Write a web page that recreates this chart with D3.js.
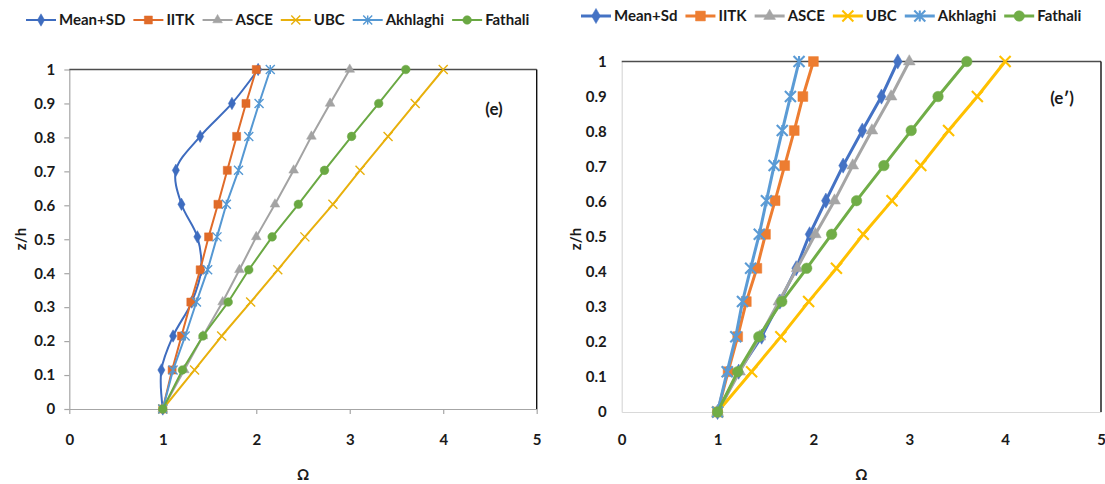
<!DOCTYPE html>
<html>
<head>
<meta charset="utf-8">
<script src="https://cdn.jsdelivr.net/npm/d3@7"></script>
<style>
  body { margin: 0; background: #fff; }
  text { font-family: Lato, "Open Sans", sans-serif; font-weight: bold; fill: #1a1a1a; }
</style>
</head>
<body>
<svg id="chart" width="1105" height="484"></svg>
<script>
// heights of the points (z/h), shared by every series
var zLevels = [0, 0.115, 0.215, 0.315, 0.41, 0.507, 0.603, 0.703, 0.803, 0.9, 1];
var xTicks = [0, 1, 2, 3, 4, 5];
var yTicks = [0, 0.1, 0.2, 0.3, 0.4, 0.5, 0.6, 0.7, 0.8, 0.9, 1];

var namesE  = ["Mean+SD", "IITK", "ASCE", "UBC", "Akhlaghi", "Fathali"];
var namesE2 = ["Mean+Sd", "IITK", "ASCE", "UBC", "Akhlaghi", "Fathali"];

// panel (e) - Omega at each z level
var meanSdE   = [1, 0.985, 1.11, 1.31, 1.41, 1.37, 1.2, 1.14, 1.4, 1.74, 2.02];
var iitkE     = [1, 1.1, 1.2, 1.3, 1.4, 1.49, 1.59, 1.69, 1.79, 1.89, 2.0];
var asceE     = [1, 1.23, 1.43, 1.64, 1.82, 2.0, 2.2, 2.4, 2.59, 2.79, 3.0];
var ubcE      = [1, 1.34, 1.63, 1.94, 2.23, 2.52, 2.82, 3.11, 3.41, 3.7, 4.0];
var akhlaghiE = [1, 1.11, 1.24, 1.36, 1.48, 1.58, 1.68, 1.81, 1.92, 2.03, 2.15];
var fathaliE  = [1, 1.21, 1.43, 1.7, 1.92, 2.17, 2.45, 2.73, 3.02, 3.31, 3.6];

// panel (e')
var meanSdE2   = [1, 1.22, 1.46, 1.65, 1.82, 1.96, 2.13, 2.31, 2.51, 2.71, 2.88];
var iitkE2     = [1, 1.11, 1.21, 1.3, 1.41, 1.5, 1.6, 1.7, 1.8, 1.89, 2.0];
var asceE2     = [1, 1.23, 1.44, 1.64, 1.83, 2.02, 2.22, 2.41, 2.61, 2.81, 3.0];
var ubcE2      = [1, 1.355, 1.66, 1.95, 2.24, 2.52, 2.82, 3.12, 3.41, 3.71, 4.0];
var akhlaghiE2 = [1, 1.1, 1.19, 1.26, 1.345, 1.435, 1.51, 1.59, 1.675, 1.76, 1.85];
var fathaliE2  = [1, 1.21, 1.43, 1.67, 1.93, 2.19, 2.45, 2.735, 3.02, 3.3, 3.6];

var markerKinds = ["diamond", "square", "triangle", "x", "star", "circle"];

var svg = d3.select("#chart");

function markerPath(kind, s) {
  var h = s / 2;
  if (kind == "x") return "M" + (-h) + "," + (-h) + "L" + h + "," + h + "M" + (-h) + "," + h + "L" + h + "," + (-h);
  if (kind == "star") return "M" + (-h) + "," + (-h) + "L" + h + "," + h + "M" + (-h) + "," + h + "L" + h + "," + (-h) + "M0," + (-h) + "L0," + h;
  var sym = { diamond: d3.symbolDiamond, square: d3.symbolSquare, triangle: d3.symbolTriangle, circle: d3.symbolCircle }[kind];
  var area = { diamond: s * s * 0.55, square: s * s * 0.8, triangle: s * s * 0.5, circle: s * s * 0.72 }[kind];
  return d3.symbol().type(sym).size(area)();
}

function drawMarker(g, kind, color, s, lw) {
  var p = g.append("path").attr("d", markerPath(kind, s));
  if (kind == "x" || kind == "star")
    p.attr("fill", "none").attr("stroke", color).attr("stroke-width", lw);
  else
    p.attr("fill", color).attr("stroke", color).attr("stroke-width", 0.5);
}

function drawPanel(cfg) {
  var g = svg.append("g");
  var x = d3.scaleLinear().domain([0, 5]).range([cfg.left, cfg.right]);
  var y = d3.scaleLinear().domain([0, 1]).range([cfg.bottom, cfg.top]);

  // axes
  var yAxis = d3.axisLeft(y).tickValues(yTicks).tickFormat(function(d){ return String(d); })
    .tickSize(cfg.tick).tickSizeOuter(0).tickPadding(cfg.yPad);
  var gy = g.append("g").attr("transform", "translate(" + cfg.left + ",0)").call(yAxis);
  var xAxis = d3.axisBottom(x).tickValues(xTicks).tickFormat(d3.format("d"))
    .tickSize(cfg.tick).tickSizeOuter(0).tickPadding(cfg.xPad);
  var gx = g.append("g").attr("transform", "translate(0," + cfg.bottom + ")").call(xAxis);
  [gx, gy].forEach(function(a){
    a.select(".domain").attr("stroke", cfg.axisColor).attr("stroke-width", 1.2);
    a.selectAll(".tick line").attr("stroke", cfg.axisColor).attr("stroke-width", 1.2);
    a.selectAll(".tick text").style("font-size", "15px").style("font-family", "Lato, sans-serif")
      .style("font-weight", "bold").attr("fill", "#1a1a1a");
  });

  // frame: dark top line and black right border
  g.append("line").attr("x1", cfg.left).attr("x2", cfg.right).attr("y1", y(1)).attr("y2", y(1))
    .attr("stroke", "#4d4d4d").attr("stroke-width", 1.6);
  g.append("line").attr("x1", cfg.right).attr("x2", cfg.right).attr("y1", y(1)).attr("y2", y(0))
    .attr("stroke", "#111").attr("stroke-width", 1.4);

  // series
  cfg.series.forEach(function(vals, i) {
    var pts = vals.map(function(v, j){ return [v, zLevels[j]]; });
    var line = d3.line().x(function(d){ return x(d[0]); }).y(function(d){ return y(d[1]); });
    if (cfg.smooth[i]) line.curve(d3.curveCatmullRom.alpha(0.5));
    g.append("path").datum(pts).attr("d", line).attr("fill", "none")
      .attr("stroke", cfg.colors[i]).attr("stroke-width", cfg.lineW).attr("stroke-linejoin", "round");
    pts.forEach(function(p) {
      var m = g.append("g").attr("transform", "translate(" + x(p[0]) + "," + y(p[1]) + ")");
      drawMarker(m, markerKinds[i], cfg.colors[i], cfg.markS, cfg.lineW * 0.7);
    });
  });

  // axis titles
  g.append("text").attr("x", (cfg.left + cfg.right) / 2 + cfg.omegaDx).attr("y", 480)
    .attr("text-anchor", "middle").style("font-size", "15px").text("Ω");
  g.append("text").attr("transform", "translate(" + cfg.zhX + ",239) rotate(-90)")
    .attr("text-anchor", "middle").attr("dy", "0.35em").style("font-size", "15px").text("z/h");
  g.append("text").attr("x", cfg.tagX).attr("y", cfg.tagY).attr("text-anchor", "middle")
    .attr("dy", "0.35em").style("font-size", "17px").text(cfg.tag);

  // legend, laid out left to right
  var lx = cfg.legendX;
  cfg.names.forEach(function(name, i) {
    var lg = g.append("g").attr("transform", "translate(" + lx + "," + cfg.legendY + ")");
    lg.append("line").attr("x1", 0).attr("x2", 30).attr("stroke", cfg.colors[i]).attr("stroke-width", cfg.lineW);
    var m = lg.append("g").attr("transform", "translate(15,0)");
    drawMarker(m, markerKinds[i], cfg.colors[i], cfg.markS, cfg.lineW * 0.7);
    var t = lg.append("text").attr("x", 33).attr("dy", "0.36em").style("font-size", "15px").text(name);
    lx += 33 + t.node().getComputedTextLength() + cfg.legendGap;
  });
}

drawPanel({
  left: 69.3, right: 536.7, top: 69.5, bottom: 409,
  tick: 5, yPad: 9, xPad: 20, axisColor: "#a6a6a6",
  series: [meanSdE, iitkE, asceE, ubcE, akhlaghiE, fathaliE],
  smooth: [true, false, false, false, false, false],
  colors: ["#3e6cbf", "#e06b29", "#a3a3a3", "#e8b00c", "#5598d3", "#6aa843"],
  lineW: 2, markS: 9,
  names: namesE, legendX: 26, legendY: 20, legendGap: 8,
  omegaDx: 0, zhX: 21, tag: "(e)", tagX: 494, tagY: 109
});

drawPanel({
  left: 621.7, right: 1101, top: 61.5, bottom: 412,
  tick: 0, yPad: 15, xPad: 22, axisColor: "#d9d9d9",
  series: [meanSdE2, iitkE2, asceE2, ubcE2, akhlaghiE2, fathaliE2],
  smooth: [false, false, false, false, false, false],
  colors: ["#4472c4", "#ed7d31", "#a5a5a5", "#ffc000", "#5b9bd5", "#70ad47"],
  lineW: 3, markS: 11,
  names: namesE2, legendX: 581, legendY: 16, legendGap: 8,
  omegaDx: 0, zhX: 576, tag: "(e′)", tagX: 1062, tagY: 98
});
</script>
</body>
</html>
